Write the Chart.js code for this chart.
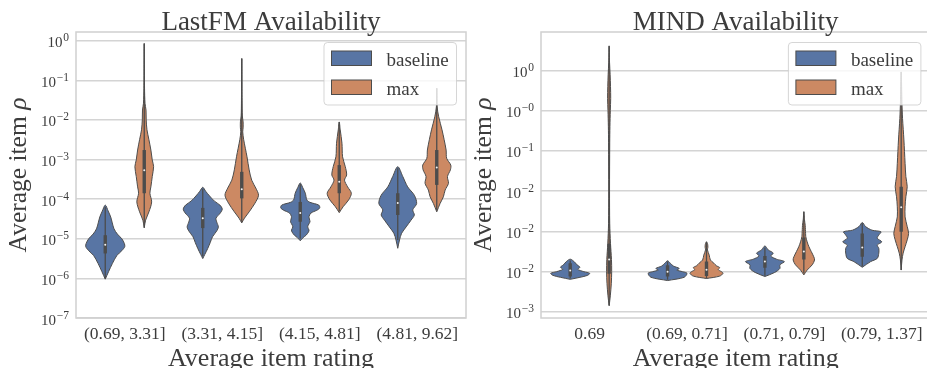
<!DOCTYPE html>
<html>
<head>
<meta charset="utf-8">
<script src="https://cdn.jsdelivr.net/npm/chart.js@4/dist/chart.umd.min.js"></script>
<style>
  html, body { margin: 0; padding: 0; width: 927px; height: 368px; overflow: hidden; background: #fff; }
  canvas { position: absolute; left: 0; top: 0; }
</style>
</head>
<body>
<canvas id="lastfm" width="927" height="368"></canvas>
<canvas id="mind" width="940" height="368"></canvas>
<script>
// ---------------- data ----------------
const seriesNames = ['baseline', 'max'];

// LastFM panel (values are log10 of ρ)
const lastfmTitle = 'LastFM Availability';
const lastfmCategories = ['(0.69, 3.31]', '(3.31, 4.15]', '(4.15, 4.81]', '(4.81, 9.62]'];
const lastfmTickValues = [-7, -6, -5, -4, -3, -2, -1, 0];
const lastfmTickExponents = ['−7', '−6', '−5', '−4', '−3', '−2', '−1', '0'];
// violin outlines: [value, relative half-width], listed bottom to top
const lastfmBaselineShapes = [
  [[-6.02,0],[-5.83,0.17],[-5.62,0.37],[-5.42,0.6],[-5.3,0.85],[-5.2,1.0],[-5.12,0.98],[-5.0,0.85],[-4.88,0.62],[-4.75,0.45],[-4.6,0.36],[-4.45,0.28],[-4.3,0.15],[-4.15,0]],
  [[-5.5,0],[-5.4,0.1],[-5.25,0.25],[-5.1,0.38],[-4.95,0.5],[-4.8,0.72],[-4.7,0.8],[-4.58,0.72],[-4.48,0.68],[-4.35,0.9],[-4.25,1.0],[-4.15,0.88],[-4.05,0.6],[-3.92,0.35],[-3.8,0.15],[-3.7,0]],
  [[-5.05,0],[-4.97,0.15],[-4.91,0.3],[-4.83,0.42],[-4.78,0.45],[-4.7,0.38],[-4.62,0.45],[-4.57,0.5],[-4.5,0.47],[-4.44,0.45],[-4.35,0.55],[-4.28,0.85],[-4.22,1.0],[-4.15,0.95],[-4.08,0.5],[-4.02,0.34],[-3.85,0.26],[-3.7,0.12],[-3.59,0]],
  [[-5.24,0],[-5.03,0.09],[-4.86,0.2],[-4.7,0.43],[-4.53,0.68],[-4.4,0.85],[-4.27,0.77],[-4.11,0.97],[-3.9,0.85],[-3.69,0.51],[-3.43,0.26],[-3.18,0]]
];
const lastfmMaxShapes = [
  [[-4.72,0],[-4.53,0.07],[-4.32,0.24],[-4.07,0.38],[-3.85,0.29],[-3.69,0.34],[-3.43,0.41],[-3.18,0.48],[-3.01,0.41],[-2.76,0.34],[-2.5,0.24],[-2.25,0.14],[-2.0,0.1],[-1.75,0.09],[-1.58,0.04],[-1.2,0.015],[-0.07,0]],
  [[-4.6,0],[-4.48,0.14],[-4.32,0.38],[-4.1,0.68],[-3.9,0.86],[-3.72,0.72],[-3.52,0.51],[-3.26,0.38],[-2.93,0.27],[-2.5,0.1],[-2.3,0.05],[-2.2,0.07],[-2.05,0.07],[-1.9,0.03],[-1.5,0.015],[-0.45,0]],
  [[-4.34,0],[-4.19,0.2],[-4.02,0.48],[-3.85,0.62],[-3.69,0.43],[-3.52,0.27],[-3.39,0.38],[-3.18,0.31],[-2.93,0.17],[-2.59,0.14],[-2.25,0.05],[-2.05,0]],
  [[-4.32,0],[-4.11,0.17],[-3.94,0.34],[-3.77,0.43],[-3.6,0.6],[-3.43,0.55],[-3.26,0.7],[-3.14,0.72],[-2.97,0.51],[-2.76,0.48],[-2.5,0.38],[-2.25,0.27],[-1.92,0.1],[-1.67,0.02],[-1.2,0]]
];
// inner boxes: [whisker low, q1, median, q3, whisker high]
const lastfmBaselineBoxes = [
  [-6.0, -5.37, -5.15, -4.91, -4.2],
  [-5.45, -4.73, -4.48, -4.22, -3.74],
  [-5.0, -4.57, -4.35, -4.07, -3.62],
  [-5.03, -4.4, -4.1, -3.85, -3.22]
];
const lastfmMaxBoxes = [
  [-4.72, -3.85, -3.27, -2.76, -0.07],
  [-4.57, -3.98, -3.75, -3.31, -0.45],
  [-4.3, -3.85, -3.56, -3.14, -2.05],
  [-4.28, -3.64, -3.2, -2.76, -1.2]
];

// MIND panel (values on the panel's tick scale, one unit per labelled tick)
const mindTitle = 'MIND Availability';
const mindCategories = ['0.69', '(0.69, 0.71]', '(0.71, 0.79]', '(0.79, 1.37]'];
const mindTickValues = [0, 1, 2, 3, 4, 5, 6];
const mindTickExponents = ['−3', '−2', '−2', '−2', '−1', '−0', '0'];
const mindBaselineShapes = [
  [[0.81,0],[0.86,0.5],[0.91,0.9],[0.96,1.0],[1.0,0.7],[1.06,0.38],[1.11,0.5],[1.17,0.35],[1.25,0.2],[1.31,0]],
  [[0.78,0],[0.86,0.85],[0.96,1.0],[1.0,0.77],[1.04,0.48],[1.08,0.6],[1.14,0.3],[1.21,0.14],[1.27,0]],
  [[0.88,0],[0.98,0.5],[1.08,0.77],[1.17,0.77],[1.25,1.0],[1.31,0.6],[1.39,0.3],[1.46,0.43],[1.54,0.17],[1.64,0]],
  [[1.11,0],[1.25,0.43],[1.33,0.77],[1.46,0.85],[1.58,0.85],[1.66,0.77],[1.74,1.0],[1.83,0.77],[1.91,0.85],[1.99,0.96],[2.03,0.5],[2.12,0.17],[2.22,0]]
];
const mindMaxShapes = [
  [[0.15,0],[0.4,0.06],[0.7,0.11],[1.0,0.13],[1.3,0.12],[1.7,0.07],[2.2,0.03],[3.0,0.02],[4.2,0.03],[4.6,0.04],[5.0,0.06],[5.3,0.08],[5.6,0.07],[5.9,0.05],[6.2,0.02],[6.6,0]],
  [[0.83,0],[0.89,0.68],[0.96,0.85],[1.0,0.77],[1.05,0.6],[1.1,0.68],[1.15,0.5],[1.21,0.38],[1.29,0.2],[1.41,0.14],[1.54,0.05],[1.6,0.07],[1.68,0.06],[1.74,0]],
  [[0.92,0],[1.04,0.17],[1.17,0.43],[1.29,0.55],[1.37,0.51],[1.5,0.38],[1.62,0.26],[1.74,0.17],[1.87,0.1],[1.95,0.09],[2.05,0.08],[2.15,0.07],[2.3,0.03],[2.49,0]],
  [[1.04,0],[1.29,0.04],[1.46,0.1],[1.62,0.2],[1.79,0.31],[1.95,0.38],[2.12,0.31],[2.36,0.2],[2.61,0.2],[2.86,0.24],[3.11,0.31],[3.36,0.24],[3.69,0.2],[4.27,0.14],[4.8,0.07],[5.18,0.04],[5.96,0]]
];
const mindBaselineBoxes = [
  [0.83, 0.88, 1.03, 1.21, 1.28],
  [0.8, 0.88, 1.0, 1.16, 1.25],
  [0.9, 1.1, 1.25, 1.39, 1.6],
  [1.13, 1.37, 1.6, 1.95, 2.2]
];
const mindMaxBoxes = [
  [0.17, 0.95, 1.3, 1.7, 6.61],
  [0.83, 0.89, 1.05, 1.25, 1.74],
  [0.96, 1.3, 1.5, 1.85, 2.49],
  [1.04, 1.99, 2.6, 3.11, 5.96]
];

// ---------------- styling ----------------
const SERIF = '"Liberation Serif", "DejaVu Serif", serif';
const BLUE = '#5875a4';
const ORANGE = '#cc8963';
const EDGE = '#4c4c4c';
const GRID = '#d4d4d4';
const SPINE = '#d0d0d0';
const TEXT = '#3c3c3c';
const HUE_OFFSET = 0.2;   // each hue sits ±0.2 of a category from its centre
const HALF_WIDTH = 0.2;   // widest violin half-width, in category units
const Y_TITLE_MAIN = 'Average item ';
const Y_TITLE_SYMBOL = 'ρ';
const X_TITLE = 'Average item rating';

function roundedRect(ctx, x, y, w, h, r) {
  ctx.beginPath();
  ctx.moveTo(x + r, y);
  ctx.lineTo(x + w - r, y);
  ctx.arcTo(x + w, y, x + w, y + r, r);
  ctx.lineTo(x + w, y + h - r);
  ctx.arcTo(x + w, y + h, x + w - r, y + h, r);
  ctx.lineTo(x + r, y + h);
  ctx.arcTo(x, y + h, x, y + h - r, r);
  ctx.lineTo(x, y + r);
  ctx.arcTo(x, y, x + r, y, r);
  ctx.closePath();
}

// frame, titles, tick labels and legend for one panel
function panelDecor(p) {
  return {
    id: 'decor_' + p.key,
    beforeDatasetsDraw(chart) {
      const {ctx, chartArea: a} = chart;
      ctx.save();
      ctx.strokeStyle = SPINE;
      ctx.lineWidth = 1.5;
      ctx.strokeRect(a.left, a.top, a.right - a.left, a.bottom - a.top);
      ctx.restore();
    },
    afterDraw(chart) {
      const {ctx, chartArea: a} = chart;
      const xs = chart.scales.x, ys = chart.scales.y;
      const cx = (a.left + a.right) / 2;
      ctx.save();
      ctx.fillStyle = TEXT;
      ctx.textBaseline = 'alphabetic';

      // title
      ctx.textAlign = 'center';
      ctx.font = `27px ${SERIF}`;
      ctx.fillText(p.title, cx, 29.5);

      // category labels
      ctx.font = `17.5px ${SERIF}`;
      p.categories.forEach((c, i) => ctx.fillText(c, xs.getPixelForValue(i), 339));

      // x title
      ctx.font = `26px ${SERIF}`;
      ctx.fillText(X_TITLE, cx, 365.5);

      // y tick labels: 10 with a raised exponent
      ctx.textAlign = 'left';
      p.tickValues.forEach((v, i) => {
        const y = ys.getPixelForValue(v);
        const exp = p.tickExponents[i];
        ctx.font = `15px ${SERIF}`;
        const wb = ctx.measureText('10').width;
        ctx.font = `11.5px ${SERIF}`;
        const we = ctx.measureText(exp).width;
        const x0 = a.left - 7 - we - wb - 0.8;
        ctx.font = `15px ${SERIF}`;
        ctx.fillText('10', x0, y + 6.5);
        ctx.font = `11.5px ${SERIF}`;
        ctx.fillText(exp, x0 + wb + 0.8, y + 0.5);
      });

      // y title (rotated)
      ctx.save();
      ctx.translate(p.yTitleX, (a.top + a.bottom) / 2);
      ctx.rotate(-Math.PI / 2);
      ctx.font = `25.5px ${SERIF}`;
      const w1 = ctx.measureText(Y_TITLE_MAIN).width;
      ctx.font = `italic 25.5px ${SERIF}`;
      const w2 = ctx.measureText(Y_TITLE_SYMBOL).width;
      ctx.font = `25.5px ${SERIF}`;
      ctx.fillText(Y_TITLE_MAIN, -(w1 + w2) / 2, 0);
      ctx.font = `italic 25.5px ${SERIF}`;
      ctx.fillText(Y_TITLE_SYMBOL, -(w1 + w2) / 2 + w1, 0);
      ctx.restore();

      // legend
      const bw = 132.5, bh = 62.5;
      const bx = a.right - 9.5 - bw, by = a.top + 10.5;
      roundedRect(ctx, bx, by, bw, bh, 3.5);
      ctx.fillStyle = 'rgba(255,255,255,0.8)';
      ctx.fill();
      ctx.strokeStyle = 'rgba(204,204,204,0.8)';
      ctx.lineWidth = 1;
      ctx.stroke();
      [BLUE, ORANGE].forEach((col, r) => {
        const py = by + 8.5 + r * 29;
        ctx.fillStyle = col;
        ctx.fillRect(bx + 7.5, py, 40, 14.5);
        ctx.strokeStyle = EDGE;
        ctx.strokeRect(bx + 7.5, py, 40, 14.5);
        ctx.fillStyle = TEXT;
        ctx.font = `19px ${SERIF}`;
        ctx.fillText(seriesNames[r], bx + 62.5, py + 14.5);
      });
      ctx.restore();
    }
  };
}

function buildPanel(canvasId, p) {
  const datasets = [];
  [[p.baselineShapes, p.baselineBoxes, -HUE_OFFSET, BLUE],
   [p.maxShapes, p.maxBoxes, HUE_OFFSET, ORANGE]].forEach(([shapes, boxes, off, color]) => {
    shapes.forEach((shape, i) => {
      const c = i + off;
      const right = shape.map(([v, w]) => ({x: c + w * HALF_WIDTH, y: v}));
      const left = shape.slice(0, -1).reverse().map(([v, w]) => ({x: c - w * HALF_WIDTH, y: v}));
      datasets.push({
        data: right.concat(left), fill: 'shape', backgroundColor: color,
        borderColor: EDGE, borderWidth: 1, pointRadius: 0, tension: 0.3, order: 4
      });
      const [lo, q1, med, q3, hi] = boxes[i];
      datasets.push({
        data: [{x: c, y: lo}, {x: c, y: hi}], borderColor: EDGE, borderWidth: 1.3,
        pointRadius: 0, fill: false, order: 3
      });
      datasets.push({
        data: [{x: c, y: q1}, {x: c, y: q3}], borderColor: EDGE, borderWidth: 3.4,
        borderCapStyle: 'butt', pointRadius: 0, fill: false, order: 2
      });
      datasets.push({
        data: [{x: c, y: med}], showLine: false, pointRadius: 1.0,
        pointBackgroundColor: '#f4f4f4', pointBorderWidth: 0, order: 1
      });
    });
  });

  return new Chart(document.getElementById(canvasId), {
    type: 'line',
    data: {datasets},
    options: {
      responsive: false,
      animation: false,
      devicePixelRatio: 1,
      events: [],
      layout: {padding: {left: 0, top: 32, right: p.padRight, bottom: 0}},
      plugins: {legend: {display: false}, tooltip: {enabled: false}},
      scales: {
        x: {
          type: 'linear', min: -0.5, max: 3.5,
          grid: {display: false}, border: {display: false}, ticks: {display: false},
          afterBuildTicks: s => { s.ticks = p.categories.map((_, i) => ({value: i})); },
          afterFit: s => { s.height = 50; }
        },
        y: {
          type: 'linear', min: p.yMin, max: p.yMax,
          grid: {color: GRID, lineWidth: 1.4, drawTicks: false},
          border: {display: false}, ticks: {display: false},
          afterBuildTicks: s => { s.ticks = p.tickValues.map(v => ({value: v})); },
          afterFit: s => { s.width = p.yAxisWidth; }
        }
      }
    },
    plugins: [panelDecor(p)]
  });
}

buildPanel('lastfm', {
  key: 'lastfm', title: lastfmTitle, categories: lastfmCategories,
  tickValues: lastfmTickValues, tickExponents: lastfmTickExponents,
  baselineShapes: lastfmBaselineShapes, maxShapes: lastfmMaxShapes,
  baselineBoxes: lastfmBaselineBoxes, maxBoxes: lastfmMaxBoxes,
  yMin: -7, yMax: 0.22, yAxisWidth: 76, padRight: 461, yTitleX: 26
});

buildPanel('mind', {
  key: 'mind', title: mindTitle, categories: mindCategories,
  tickValues: mindTickValues, tickExponents: mindTickExponents,
  baselineShapes: mindBaselineShapes, maxShapes: mindMaxShapes,
  baselineBoxes: mindBaselineBoxes, maxBoxes: mindMaxBoxes,
  yMin: -0.15, yMax: 6.95, yAxisWidth: 541, padRight: 9.6, yTitleX: 491
});
</script>
</body>
</html>
